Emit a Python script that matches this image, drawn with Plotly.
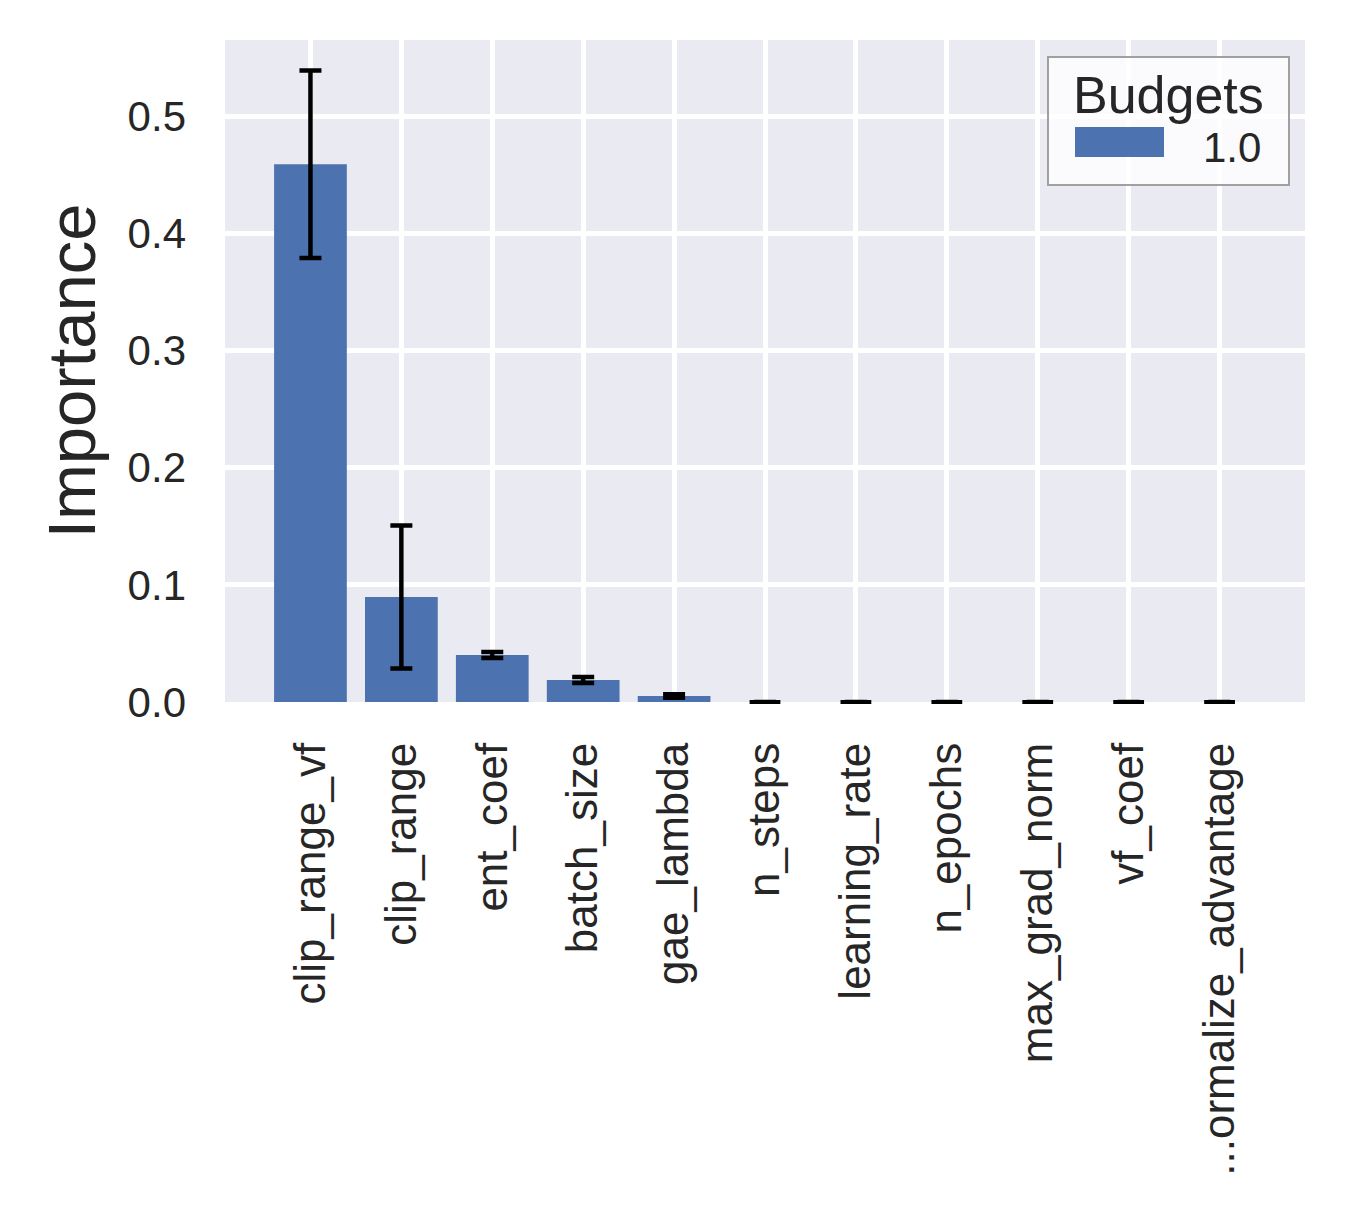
import plotly.graph_objects as go

params = ["clip_range_vf", "clip_range", "ent_coef", "batch_size", "gae_lambda",
          "n_steps", "learning_rate", "n_epochs", "max_grad_norm", "vf_coef",
          "...ormalize_advantage"]
importance = [0.459, 0.0896, 0.0401, 0.0188, 0.0051, 0.0, 0.0, 0.0, 0.0, 0.0, 0.0]
errors = [0.080, 0.061, 0.0025, 0.0025, 0.0015, 0.0, 0.0, 0.0, 0.0, 0.0, 0.0]
y_ticks = [0.0, 0.1, 0.2, 0.3, 0.4, 0.5]
budget_label = "1.0"

BLUE = "#4C72B0"
TXT = "#262626"
FONT = "Liberation Sans, Arial, sans-serif"

x = list(range(len(params)))
fig = go.Figure()
fig.add_trace(go.Bar(
    x=x, y=importance, width=0.8, name=budget_label,
    marker=dict(color=BLUE, line=dict(width=0)),
    error_y=dict(type="data", array=[e if e > 0 else None for e in errors],
                 visible=True, color="black", thickness=4.5, width=11),
    showlegend=False,
))
# caps for bars whose error is zero (drawn on the zero line, not clipped)
zx = [xi for xi, e in zip(x, errors) if e == 0]
zy = [importance[xi] for xi in zx]
fig.add_trace(go.Scatter(
    x=zx, y=zy, mode="markers", cliponaxis=False, showlegend=False,
    marker=dict(symbol="line-ew", size=22, color="black",
                line=dict(width=4, color="black")),
    hoverinfo="skip",
))

W, H = 1338, 1212
L, T = 217, 32
PW, PH = 1080, 662
R = W - L - PW
B = H - T - PH


def px(X):
    return (X - 225) / PW


def py(Y):
    return (702 - Y) / PH


fig.update_layout(
    width=W, height=H,
    paper_bgcolor="white", plot_bgcolor="#EAEAF2",
    margin=dict(l=L, r=R, t=T, b=B, pad=0),
    font=dict(family=FONT, color=TXT),
    showlegend=False,
    shapes=[
        dict(type="rect", xref="paper", yref="paper",
             x0=px(1048), x1=px(1289), y0=py(185), y1=py(57),
             fillcolor="rgba(255,255,255,0.8)", line=dict(color="#A0A0A0", width=2),
             layer="above"),
        dict(type="rect", xref="paper", yref="paper",
             x0=px(1075), x1=px(1164), y0=py(157), y1=py(127),
             fillcolor=BLUE, line=dict(width=0), layer="above"),
    ],
    annotations=[
        dict(text="Budgets", xref="paper", yref="paper", x=px(1168), y=py(95),
             xanchor="center", yanchor="middle", showarrow=False,
             font=dict(size=52, color=TXT, family=FONT)),
        dict(text=budget_label, xref="paper", yref="paper", x=px(1263), y=py(147),
             xanchor="right", yanchor="middle", showarrow=False,
             font=dict(size=42, color=TXT, family=FONT)),
    ],
)
fig.update_xaxes(
    range=[-0.94, 10.94], tickmode="array", tickvals=x, ticktext=params,
    tickangle=-90, tickfont=dict(size=44, color=TXT),
    showgrid=True, gridcolor="white", gridwidth=4.5, zeroline=False,
    ticks="", ticklabelstandoff=31,
)
fig.update_yaxes(
    range=[0, 0.565], tickmode="array", tickvals=y_ticks,
    ticktext=[f"{v:.1f}" for v in y_ticks],
    tickfont=dict(size=42, color=TXT),
    title=dict(text="Importance", font=dict(size=67, color=TXT), standoff=10),
    showgrid=True, gridcolor="white", gridwidth=4.5, zeroline=False,
    ticks="", ticklabelstandoff=38,
)

fig.write_html("out.html")
